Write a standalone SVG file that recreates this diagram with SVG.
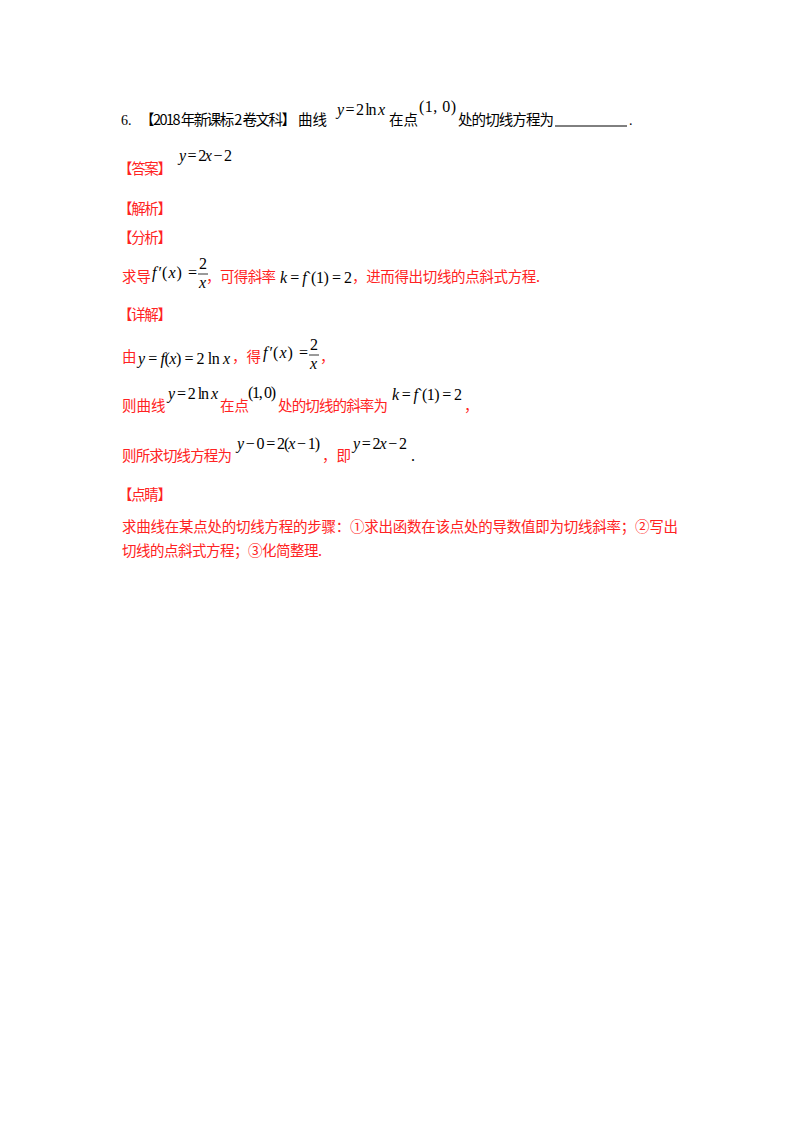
<svg xmlns="http://www.w3.org/2000/svg" width="800" height="1132" viewBox="0 0 800 1132">
<style>
text{font-family:"Liberation Serif","Noto Sans CJK SC",serif;font-size:14px;fill:#000}
.r{fill:#f22}
.c{font-family:"Noto Sans CJK SC",sans-serif;font-size:14.5px}
.m{font-family:"Liberation Serif",serif;font-size:16px;fill:#000}
.i{font-style:italic}
</style>
<rect width="800" height="1132" fill="#fff"/>
<g id="question">
<text x="121" y="125" font-size="15">6.</text>
<text x="140" y="125" class="c" textLength="156">【2018 年新课标 2 卷文科】</text>
<text x="298" y="125" class="c">曲线</text>
<text x="337" y="115" class="m" textLength="48"><tspan class="i">y</tspan> = 2 ln <tspan class="i">x</tspan></text>
<text x="389" y="125" class="c">在点</text>
<text x="419" y="112" class="m" font-size="18" textLength="37">(1, 0)</text>
<text x="458" y="125" class="c" textLength="96">处的切线方程为</text>
<line x1="555" y1="126" x2="627" y2="126" stroke="#000" stroke-width="1"/>
<text x="629" y="125">.</text>
</g>
<g id="answer">
<text x="118" y="174" class="c r" textLength="54">【答案】</text>
<text x="179" y="161" class="m" textLength="53"><tspan class="i">y</tspan> = 2<tspan class="i">x</tspan> − 2</text>
<text x="118" y="214" class="c r" textLength="54">【解析】</text>
<text x="118" y="243" class="c r" textLength="54">【分析】</text>
</g>
<g id="analysis">
<text x="122" y="282" class="c r">求导</text>
<text x="152" y="278" class="m" textLength="45"><tspan class="i">f′</tspan>(<tspan class="i">x</tspan>) =</text>
<text x="199" y="269" class="m">2</text>
<line x1="198" y1="274" x2="208" y2="274" stroke="#000" stroke-width="0.8"/>
<text x="199" y="288" class="m i">x</text>
<text x="206" y="282" class="c r" textLength="70">，可得斜率</text>
<text x="280" y="283" class="m" textLength="72"><tspan class="i">k</tspan> = <tspan class="i">f</tspan>`(1) = 2</text>
<text x="352" y="282" class="c r" textLength="188">，进而得出切线的点斜式方程.</text>
<text x="118" y="320" class="c r" textLength="54">【详解】</text>
</g>
<g id="detail">
<text x="122" y="362" class="c r">由</text>
<text x="138" y="364" class="m" textLength="92"><tspan class="i">y</tspan> = <tspan class="i">f</tspan>(<tspan class="i">x</tspan>) = 2 ln <tspan class="i">x</tspan></text>
<text x="232" y="362" class="c r">，得</text>
<text x="263" y="358" class="m" textLength="45"><tspan class="i">f′</tspan>(<tspan class="i">x</tspan>) =</text>
<text x="310" y="350" class="m">2</text>
<line x1="309" y1="355" x2="319" y2="355" stroke="#000" stroke-width="0.8"/>
<text x="310" y="369" class="m i">x</text>
<text x="320" y="362" class="c r">，</text>
<text x="122" y="411" class="c r">则曲线</text>
<text x="168" y="399" class="m" textLength="50"><tspan class="i">y</tspan> = 2 ln <tspan class="i">x</tspan></text>
<text x="220" y="411" class="c r">在点</text>
<text x="248" y="398" class="m" textLength="28">(1, 0)</text>
<text x="278" y="411" class="c r" textLength="110">处的切线的斜率为</text>
<text x="392" y="400" class="m" textLength="70"><tspan class="i">k</tspan> = <tspan class="i">f</tspan>`(1) = 2</text>
<text x="464" y="411" class="c r">，</text>
<text x="122" y="461" class="c r" textLength="110">则所求切线方程为</text>
<text x="237" y="449" class="m" textLength="83"><tspan class="i">y</tspan> − 0 = 2(<tspan class="i">x</tspan> − 1)</text>
<text x="322" y="461" class="c r">，即</text>
<text x="353" y="449" class="m" textLength="54"><tspan class="i">y</tspan> = 2<tspan class="i">x</tspan> − 2</text>
<text x="411" y="461" class="m">.</text>
</g>
<g id="comment">
<text x="118" y="500" class="c r" textLength="54">【点睛】</text>
<text x="122" y="532" class="c r" textLength="556">求曲线在某点处的切线方程的步骤：①求出函数在该点处的导数值即为切线斜率；②写出</text>
<text x="122" y="556" class="c r" textLength="200">切线的点斜式方程；③化简整理.</text>
</g>
</svg>
